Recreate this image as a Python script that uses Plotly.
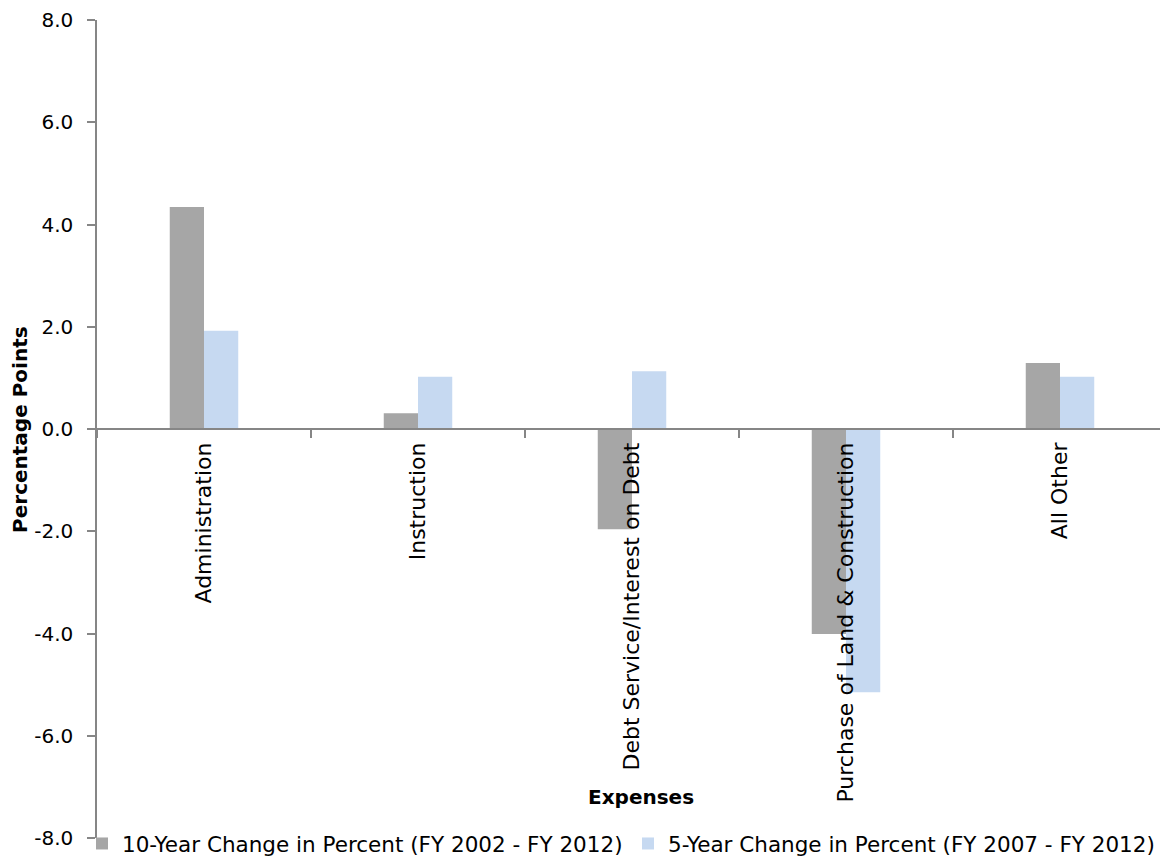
import plotly.graph_objects as go

categories = ["Administration", "Instruction", "Debt Service/Interest on Debt",
              "Purchase of Land & Construction", "All Other"]
ten_year = [4.34, 0.31, -1.96, -4.01, 1.29]
five_year = [1.92, 1.02, 1.13, -5.15, 1.02]
series_names = ["10-Year Change in Percent (FY 2002 - FY 2012)",
                "5-Year Change in Percent (FY 2007 - FY 2012)"]
y_tickvals = [-8, -6, -4, -2, 0, 2, 4, 6, 8]
y_ticktext = ["-8.0", "-6.0", "-4.0", "-2.0", "0.0", "2.0", "4.0", "6.0", "8.0"]

FONT = "DejaVu Sans"
FS = 20
AXIS = "#868686"

fig = go.Figure()
fig.add_trace(go.Bar(x=categories, y=ten_year, name=series_names[0],
                     marker=dict(color="#A6A6A6", line=dict(width=0)),
                     legend="legend"))
fig.add_trace(go.Bar(x=categories, y=five_year, name=series_names[1],
                     marker=dict(color="#C6D9F1", line=dict(width=0)),
                     legend="legend2"))

W, H = 1160, 856
leg_common = dict(orientation="h", xref="container", yref="container",
                  xanchor="left", y=-0.006, yanchor="bottom",
                  font=dict(family=FONT, size=21.5), itemwidth=30,
                  bgcolor="rgba(0,0,0,0)")

fig.update_layout(
    width=W, height=H,
    margin=dict(l=89, r=1, t=12, b=26, autoexpand=False),
    paper_bgcolor="white", plot_bgcolor="white",
    font=dict(family=FONT, size=FS, color="black"),
    barmode="group", bargap=0.68, bargroupgap=0,
    showlegend=True,
    legend=dict(x=74 / W, **leg_common),
    legend2=dict(x=620 / W, **leg_common),
    xaxis=dict(anchor="free", position=0.5, showline=True, linecolor=AXIS,
               linewidth=1.5, ticks="outside", tickson="boundaries", ticklen=8,
               tickcolor=AXIS, tickwidth=1.5, tickangle=-90, showgrid=False,
               ticklabelstandoff=4,
               automargin=False, tickfont=dict(family=FONT, size=22)),
    yaxis=dict(range=[-8, 8], tickvals=y_tickvals, ticktext=y_ticktext,
               showline=True, linecolor=AXIS, linewidth=1.5, ticks="outside",
               ticklen=8, tickcolor=AXIS, tickwidth=1.5, showgrid=False,
               zeroline=False, automargin=False, ticklabelstandoff=10,
               tickfont=dict(family=FONT, size=FS)),
    annotations=[
        dict(text="<b>Percentage Points</b>", xref="paper", yref="paper",
             x=-0.072, y=0.5, textangle=-90, showarrow=False,
             font=dict(family=FONT, size=FS), xanchor="center", yanchor="middle"),
        dict(text="<b>Expenses</b>", xref="paper", yref="paper",
             x=0.508, y=0.05, showarrow=False,
             font=dict(family=FONT, size=FS), xanchor="center", yanchor="middle"),
    ],
)

fig.write_html("out.html")
